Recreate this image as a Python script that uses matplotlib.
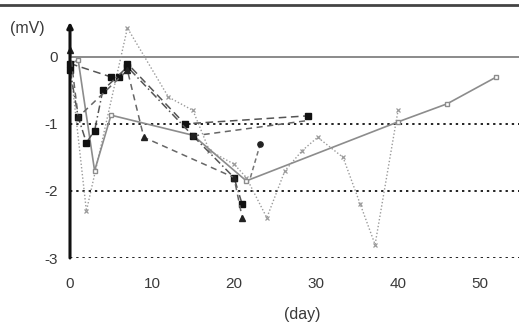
import matplotlib
matplotlib.use("Agg")
import matplotlib.pyplot as plt
from matplotlib.lines import Line2D

plt.rcParams['font.family'] = ['Liberation Sans', 'DejaVu Sans']

# data (day, mV)
a_x = [0, 5, 6, 7, 14, 29]
a_y = [-0.1, -0.3, -0.3, -0.1, -1.0, -0.88]

b_x = [0, 1, 2, 3, 4, 7, 15, 20, 21]
b_y = [-0.2, -0.9, -1.28, -1.1, -0.5, -0.15, -1.18, -1.8, -2.2]

c_x = [0, 1, 7, 9, 20, 21]
c_y = [0.1, -0.9, -0.2, -1.2, -1.8, -2.4]

d_x = [15, 29]
d_y = [-1.18, -0.95]

e_x = [22, 23.2]
e_y = [-1.8, -1.3]

s_x = [0, 1, 3, 5, 15, 21.5, 40, 46, 52]
s_y = [-0.1, -0.05, -1.7, -0.87, -1.17, -1.85, -0.97, -0.7, -0.3]

f_x = [0, 2, 7, 12, 15, 17, 20, 21.5, 24, 26.2, 28.3, 30.2, 33.3, 35.4, 37.2, 40]
f_y = [-0.1, -2.3, 0.43, -0.6, -0.8, -1.4, -1.6, -1.8, -2.4, -1.7, -1.4, -1.2, -1.5, -2.2, -2.8, -0.8]

x_ticks = [0, 10, 20, 30, 40, 50]
y_ticks = [0, -1, -2, -3]

W, H = 519, 328
fig = plt.figure(figsize=(W / 100, H / 100), dpi=100)
ax = fig.add_axes([70 / W, (H - 258) / H, 1 - 70 / W, (258 - 30) / H])
ax.set_xlim(0, 54.75)
ax.set_ylim(-3, 0.4)
for sp in ax.spines.values():
    sp.set_visible(False)

# reference lines
ax.axhline(0, color='#8a8a8a', lw=1.4, zorder=1)
for yv in [-1, -2, -3]:
    ax.axhline(yv, color='#222222', lw=1.4, ls=(0, (1.2, 2.0)), zorder=1)

# series
ax.plot(f_x, f_y, color='#9a9a9a', lw=1.0, ls=(0, (1, 1.5)), marker='x', ms=3.2,
        mew=0.9, clip_on=False, zorder=2)
ax.plot(s_x, s_y, color='#8c8c8c', lw=1.2, ls='-', marker='s', ms=3.2,
        mfc='white', mec='#8c8c8c', clip_on=False, zorder=3)
ax.plot(a_x, a_y, color='#555555', lw=1.1, ls=(0, (5, 3)), marker='s', ms=4,
        mfc='#111111', mec='#111111', clip_on=False, zorder=4)
ax.plot(b_x, b_y, color='#555555', lw=1.1, ls=(0, (5, 2, 1, 2)), marker='s', ms=4,
        mfc='#111111', mec='#111111', clip_on=False, zorder=4)
ax.plot(c_x, c_y, color='#666666', lw=1.1, ls=(0, (4, 3)), marker='^', ms=4,
        mfc='#222222', mec='#222222', clip_on=False, zorder=4)
ax.plot(d_x, d_y, color='#666666', lw=1.1, ls=(0, (4, 3)), marker='o', ms=3.8,
        mfc='#222222', mec='#222222', markevery=[0], clip_on=False, zorder=4)
ax.plot(e_x, e_y, color='#777777', lw=1.1, ls=(0, (3, 2)), marker='o', ms=3.8,
        mfc='#222222', mec='#222222', markevery=[1], clip_on=False, zorder=4)

# y axis line with arrow
ax.annotate('', xy=(0, 0.52), xytext=(0, -3), xycoords='data',
            arrowprops=dict(arrowstyle='-|>', color='#111111', lw=2.2,
                            mutation_scale=8, shrinkA=0, shrinkB=0),
            annotation_clip=False, zorder=5)

ax.set_xticks(x_ticks)
ax.set_xticklabels([str(v) for v in x_ticks])
ax.set_yticks(y_ticks)
ax.set_yticklabels([str(v) for v in y_ticks])
ax.tick_params(length=0, labelsize=11, labelcolor='#3a3a3a')
ax.tick_params(axis='x', pad=14)
ax.tick_params(axis='y', pad=9)

fig.text(27 / W, 1 - 28 / H, '(mV)', ha='center', va='center', fontsize=11.5, color='#3a3a3a')
fig.text(302 / W, 1 - 315 / H, '(day)', ha='center', va='center', fontsize=11.5, color='#3a3a3a')

# top frame line
fig.add_artist(Line2D([0, 1], [1 - 5 / H, 1 - 5 / H], transform=fig.transFigure,
                      color='#444444', lw=2))

fig.savefig('out.png', dpi=100, facecolor='white')
